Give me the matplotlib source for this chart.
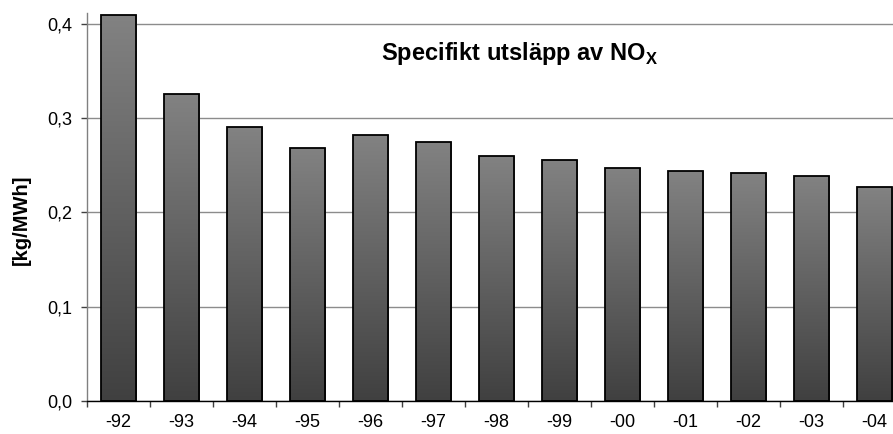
import numpy as np
import matplotlib
matplotlib.use("Agg")
import matplotlib.pyplot as plt
from matplotlib.colors import LinearSegmentedColormap

plt.rcParams['font.family'] = ['Liberation Sans', 'DejaVu Sans']
plt.rcParams['mathtext.fontset'] = 'custom'
plt.rcParams['mathtext.bf'] = 'Liberation Sans:bold'

# data
years = ['-92', '-93', '-94', '-95', '-96', '-97', '-98', '-99',
         '-00', '-01', '-02', '-03', '-04']
nox = [0.409, 0.326, 0.290, 0.2685, 0.282, 0.275, 0.260, 0.256,
       0.2475, 0.2435, 0.2415, 0.239, 0.2265]
yticks = [0.0, 0.1, 0.2, 0.3, 0.4]
ytick_labels = ['0,0', '0,1', '0,2', '0,3', '0,4']

fig = plt.figure(figsize=(8.93, 4.34), dpi=100)
ax = fig.add_axes([0.0974, 0.076, 0.9168, 0.8933])

x = np.arange(len(years))
bars = ax.bar(x, nox, width=0.56, facecolor='none', edgecolor='black',
              linewidth=1.3, zorder=3)

# vertical gradient inside every bar, light at top, dark at bottom
grad_cmap = LinearSegmentedColormap.from_list('g', ['#404040', '#828282'])
grad = np.linspace(0, 1, 256).reshape(-1, 1)
for b in bars:
    x0, w, h = b.get_x(), b.get_width(), b.get_height()
    im = ax.imshow(grad, cmap=grad_cmap, origin='lower', aspect='auto',
                   extent=(x0, x0 + w, 0, h), zorder=2)
    im.set_clip_path(b)

ax.set_xlim(-0.5, len(years) - 0.5)
ax.set_ylim(0, 0.411)

ax.set_yticks(yticks)
ax.set_yticklabels(ytick_labels)
ax.set_xticks(x)
ax.set_xticklabels(years)
ax.set_xticks(np.arange(len(years) + 1) - 0.5, minor=True)
ax.tick_params(axis='x', which='major', length=0, pad=9.5, labelsize=13)
ax.tick_params(axis='x', which='minor', length=4, width=1, color='#404040')
ax.tick_params(axis='y', length=4, width=1, color='#404040', pad=6.5, labelsize=13)

ax.yaxis.grid(True, color='#8c8c8c', linewidth=1)
ax.set_axisbelow(True)

for s in ['top', 'right']:
    ax.spines[s].set_visible(False)
ax.spines['left'].set_color('#808080')
ax.spines['left'].set_linewidth(1)
ax.spines['bottom'].set_color('black')
ax.spines['bottom'].set_linewidth(1)

ax.set_ylabel('[kg/MWh]', fontsize=14.5, fontweight='bold')
ax.yaxis.set_label_coords(-0.068, 0.467)
ax.text(0.5277, 0.8796, r'Specifikt utsläpp av NO$_\mathbf{X}$',
        transform=ax.transAxes, ha='center', va='baseline',
        fontsize=17, fontweight='bold')

fig.savefig('out.png', dpi=100)
